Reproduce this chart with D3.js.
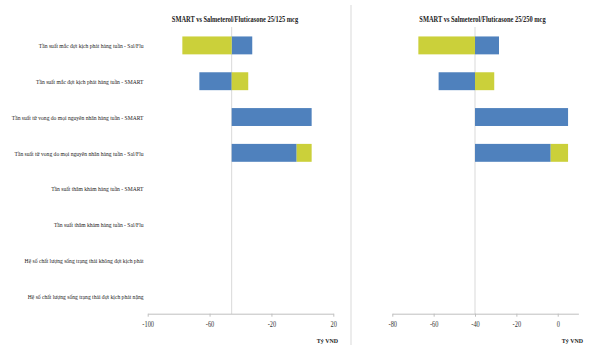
<!DOCTYPE html>
<html><head><meta charset="utf-8">
<script src="https://cdn.jsdelivr.net/npm/d3@7"></script>
<style>body{margin:0;background:#fff}svg{display:block}</style>
</head><body><svg id="c" width="589" height="345"></svg>
<script>
const categories = [
  "Tần suất mắc đợt kịch phát hàng tuần - Sal/Flu",
  "Tần suất mắc đợt kịch phát hàng tuần - SMART",
  "Tần suất tử vong do mọi nguyên nhân hàng tuần - SMART",
  "Tần suất tử vong do mọi nguyên nhân hàng tuần - Sal/Flu",
  "Tần suất thăm khám hàng tuần - SMART",
  "Tần suất thăm khám hàng tuần - Sal/Flu",
  "Hệ số chất lượng sống trạng thái không đợt kịch phát",
  "Hệ số chất lượng sống trạng thái đợt kịch phát nặng"
];
const titles = ["SMART vs Salmeterol/Fluticasone 25/125 mcg", "SMART vs Salmeterol/Fluticasone 25/250 mcg"];
const axisTitle = "Tỷ VND";
const leftBase = -45.7;
const leftBlue = [-32.4, -66.6, 6.0, -3.7, -45.7, -45.7, -45.7, -45.7];
const leftYellow = [-77.6, -35.0, -45.7, 6.0, -45.7, -45.7, -45.7, -45.7];
const leftDomain = [-100, 20];
const leftTicks = [-100, -60, -20, 20];
const rightBase = -40;
const rightBlue = [-28.4, -57.6, 5.0, -3.4, -40, -40, -40, -40];
const rightYellow = [-67.4, -30.7, -40, 5.0, -40, -40, -40, -40];
const rightDomain = [-80, 10];
const rightTicks = [-80, -60, -40, -20, 0];

const svg = d3.select("#c");
const BLUE = "#4F81BD", YEL = "#CBD03A";
const serif = "'Liberation Serif','DejaVu Serif',serif";

const y = d3.scaleBand().domain(categories).range([27.5, 314]).paddingInner(0.5).paddingOuter(0.25);

svg.append("line").attr("x1", 351).attr("x2", 351).attr("y1", 5).attr("y2", 345)
  .attr("stroke", "#d9d9d9").attr("stroke-width", 1);

const lab = svg.append("g");
categories.forEach(c => {
  lab.append("text")
    .attr("font-family", serif).attr("font-size", 7).attr("fill", "#222")
    .attr("text-anchor", "end").attr("dominant-baseline", "central").text(c)
    .attr("transform", `translate(143.5,${y(c) + y.bandwidth() / 2}) scale(0.8,1)`);
});

function panel(range, domain, ticks, base, blue, yellow, title, titleX, axisTitleX) {
  const x = d3.scaleLinear().domain(domain).range(range);
  const g = svg.append("g");
  g.append("line").attr("x1", x(base)).attr("x2", x(base)).attr("y1", 27).attr("y2", 314)
    .attr("stroke", "#d9d9d9").attr("stroke-width", 1);
  const segs = [];
  categories.forEach((c, i) => {
    const b = blue[i], yv = yellow[i];
    if (b !== base) segs.push({ c, a: base, z: b, color: BLUE });
    if (yv !== base) {
      let start = base;
      if ((yv - base) * (b - base) > 0 && Math.abs(yv - base) > Math.abs(b - base)) start = b;
      segs.push({ c, a: start, z: yv, color: YEL });
    }
  });
  g.selectAll(null).data(segs).enter().append("rect")
    .attr("x", d => x(Math.min(d.a, d.z)))
    .attr("width", d => Math.abs(x(d.z) - x(d.a)))
    .attr("y", d => y(d.c)).attr("height", y.bandwidth())
    .attr("fill", d => d.color);
  const ax = g.append("g").attr("transform", "translate(0,313.7)")
    .call(d3.axisBottom(x).tickValues(ticks).tickSize(3).tickSizeOuter(0).tickFormat(d => String(d)));
  ax.select(".domain").attr("stroke", "#bfbfbf");
  ax.selectAll(".tick line").attr("stroke", "#bfbfbf");
  ax.selectAll(".tick text").attr("font-family", serif).attr("font-size", 7.5).attr("fill", "#333")
    .attr("y", 8).attr("transform", "scale(0.85,1)");
  svg.append("text").attr("font-family", serif).attr("font-weight", "bold").attr("font-size", 8)
    .attr("fill", "#222").attr("text-anchor", "middle")
    .attr("transform", `translate(${titleX},21.5) scale(0.8,1)`).text(title);
  svg.append("text").attr("font-family", serif).attr("font-weight", "bold").attr("font-size", 7)
    .attr("fill", "#222").attr("text-anchor", "end")
    .attr("transform", `translate(${axisTitleX},343) scale(0.85,1)`).text(axisTitle);
}

panel([147.7, 333.3], leftDomain, leftTicks, leftBase, leftBlue, leftYellow, titles[0], 235, 338);
panel([392.3, 578.4], rightDomain, rightTicks, rightBase, rightBlue, rightYellow, titles[1], 482.5, 583);
</script></body></html>
